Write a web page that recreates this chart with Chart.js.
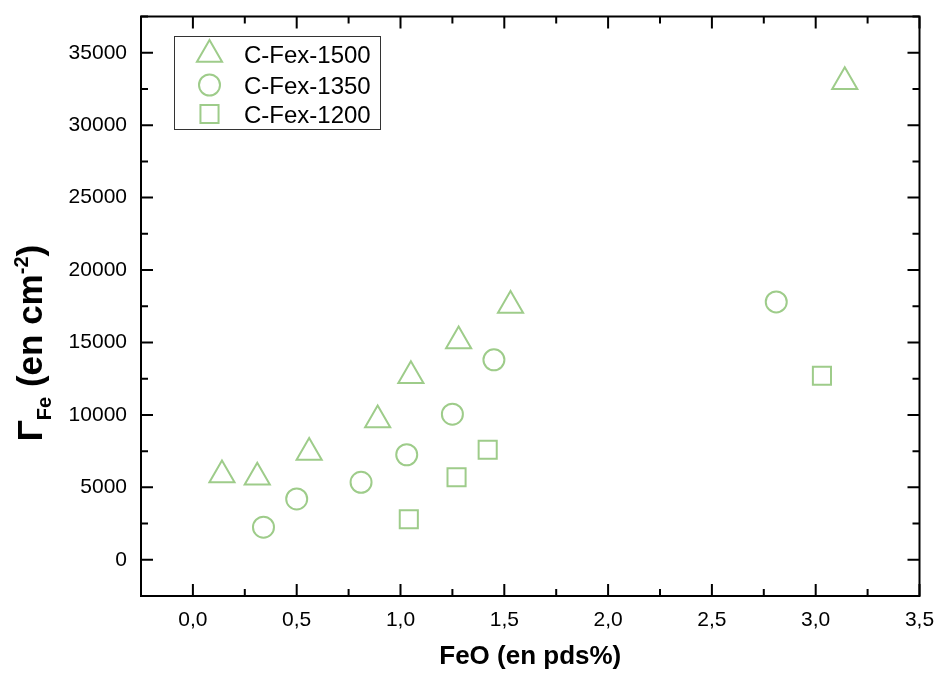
<!DOCTYPE html>
<html><head><meta charset="utf-8">
<script src="https://cdn.jsdelivr.net/npm/chart.js@4/dist/chart.umd.min.js"></script>
<style>html,body{margin:0;padding:0;background:#fff;} #wrap{width:936px;height:673px;}</style>
</head><body><div id="wrap"><canvas id="c" width="936" height="673"></canvas></div>
<script>
const seriesNames = ['C-Fex-1500', 'C-Fex-1350', 'C-Fex-1200'];
const feo1500 = [0.14, 0.31, 0.56, 0.89, 1.05, 1.28, 1.53, 3.14];
const gamma1500 = [5850, 5700, 7400, 9650, 12700, 15100, 17550, 33000];
const feo1350 = [0.34, 0.50, 0.81, 1.03, 1.25, 1.45, 2.81];
const gamma1350 = [2250, 4200, 5350, 7250, 10050, 13800, 17800];
const feo1200 = [1.04, 1.27, 1.42, 3.03];
const gamma1200 = [2800, 5700, 7600, 12700];
const xTicks = [0, 0.5, 1, 1.5, 2, 2.5, 3, 3.5];
const xMinorTicks = [-0.25, 0.25, 0.75, 1.25, 1.75, 2.25, 2.75, 3.25];
const yTicks = [0, 5000, 10000, 15000, 20000, 25000, 30000, 35000];
const yMinorTicks = [-2500, 2500, 7500, 12500, 17500, 22500, 27500, 32500, 37500];
const xTitle = 'FeO (en pds%)';

const GREEN = 'rgb(158,204,138)';
const FONT = "'Liberation Sans', Arial, sans-serif";

function pts(xs, ys) { return xs.map((x, i) => ({ x: x, y: ys[i] })); }

const styles = [
  { pointStyle: 'triangle', radius: 14.5 },
  { pointStyle: 'circle', radius: 10.5 },
  { pointStyle: 'rect', radius: 12.8 }
];

function drawSymbol(ctx, style, r, x, y) {
  ctx.beginPath();
  if (style === 'triangle') {
    let rad = 0;
    ctx.moveTo(x + Math.sin(rad) * r, y - Math.cos(rad) * r);
    rad += 2 * Math.PI / 3;
    ctx.lineTo(x + Math.sin(rad) * r, y - Math.cos(rad) * r);
    rad += 2 * Math.PI / 3;
    ctx.lineTo(x + Math.sin(rad) * r, y - Math.cos(rad) * r);
    ctx.closePath();
  } else if (style === 'circle') {
    ctx.arc(x, y, r, 0, Math.PI * 2);
  } else {
    const s = Math.SQRT1_2 * r;
    ctx.rect(x - s, y - s, 2 * s, 2 * s);
  }
  ctx.stroke();
}

const framePlugin = {
  id: 'frame',
  afterDraw(chart) {
    const ctx = chart.ctx;
    const a = chart.chartArea;
    const xs = chart.scales.x, ys = chart.scales.y;
    ctx.save();
    ctx.strokeStyle = '#000';
    ctx.lineWidth = 2;
    ctx.strokeRect(a.left, a.top, a.right - a.left, a.bottom - a.top);
    ctx.beginPath();
    const tick = (list, len) => {
      list.forEach(v => {
        const px = xs.getPixelForValue(v);
        if (px < a.left - 0.5 || px > a.right + 0.5) return;
        ctx.moveTo(px, a.bottom); ctx.lineTo(px, a.bottom - len);
        ctx.moveTo(px, a.top); ctx.lineTo(px, a.top + len);
      });
    };
    const tickY = (list, len) => {
      list.forEach(v => {
        const py = ys.getPixelForValue(v);
        if (py < a.top - 0.5 || py > a.bottom + 0.5) return;
        ctx.moveTo(a.left, py); ctx.lineTo(a.left + len, py);
        ctx.moveTo(a.right, py); ctx.lineTo(a.right - len, py);
      });
    };
    tick(xTicks, 12); tick(xMinorTicks, 7);
    tickY(yTicks, 12); tickY(yMinorTicks, 7);
    ctx.stroke();

    // x title
    ctx.fillStyle = '#000';
    ctx.font = 'bold 26px ' + FONT;
    ctx.textAlign = 'center';
    ctx.textBaseline = 'alphabetic';
    ctx.fillText(xTitle, (a.left + a.right) / 2, 664);

    // y title with sub/superscript
    const parts = [
      { t: 'Γ', size: 35, dy: 0 },
      { t: 'Fe', size: 20, dy: 9 },
      { t: ' (en cm', size: 35, dy: 0 },
      { t: '-2', size: 20, dy: -14 },
      { t: ')', size: 35, dy: 0 }
    ];
    let total = 0;
    parts.forEach(p => { ctx.font = 'bold ' + p.size + 'px ' + FONT; p.w = ctx.measureText(p.t).width; total += p.w; });
    ctx.translate(42, 343);
    ctx.rotate(-Math.PI / 2);
    ctx.textAlign = 'left';
    let cx = -total / 2;
    parts.forEach(p => {
      ctx.font = 'bold ' + p.size + 'px ' + FONT;
      ctx.fillText(p.t, cx, p.dy);
      cx += p.w;
    });
    ctx.restore();

    // legend
    ctx.save();
    ctx.strokeStyle = '#333';
    ctx.lineWidth = 1;
    ctx.strokeRect(174.5, 36.5, 206, 93);
    const rows = [54.5, 85, 114];
    ctx.font = '24px ' + FONT;
    ctx.textAlign = 'left';
    ctx.textBaseline = 'alphabetic';
    chart.data.datasets.forEach((ds, i) => {
      ctx.strokeStyle = GREEN;
      ctx.lineWidth = 2;
      drawSymbol(ctx, styles[i].pointStyle, styles[i].radius, 209.5, rows[i]);
      ctx.fillStyle = '#000';
      ctx.fillText(ds.label, 244, rows[i] + 8.5);
    });
    ctx.restore();
  }
};

const datasets = [
  { label: seriesNames[0], data: pts(feo1500, gamma1500) },
  { label: seriesNames[1], data: pts(feo1350, gamma1350) },
  { label: seriesNames[2], data: pts(feo1200, gamma1200) }
].map((d, i) => Object.assign(d, {
  pointStyle: styles[i].pointStyle,
  pointRadius: styles[i].radius,
  pointHoverRadius: styles[i].radius,
  pointBorderWidth: 2,
  pointBorderColor: GREEN,
  pointBackgroundColor: 'rgba(0,0,0,0)',
  borderColor: GREEN,
  backgroundColor: 'rgba(0,0,0,0)',
  showLine: false
}));

function noPad(s) { s.paddingLeft = 0; s.paddingRight = 0; s.paddingTop = 0; s.paddingBottom = 0; }

new Chart(document.getElementById('c'), {
  type: 'scatter',
  data: { datasets: datasets },
  options: {
    responsive: false,
    animation: false,
    layout: { padding: { top: 15, right: 16, left: 0, bottom: 0 } },
    plugins: { legend: { display: false }, tooltip: { enabled: false } },
    scales: {
      x: {
        type: 'linear', min: -0.25, max: 3.5,
        afterBuildTicks: s => { s.ticks = xTicks.map(v => ({ value: v })); },
        afterFit: s => { s.height = 77; noPad(s); },
        grid: { display: false, drawTicks: false },
        border: { display: false },
        ticks: {
          padding: 12, color: '#000', maxRotation: 0, autoSkip: false,
          font: { family: FONT, size: 21 },
          callback: v => Number(v).toFixed(1).replace('.', ',')
        }
      },
      y: {
        type: 'linear', min: -2500, max: 37500,
        afterBuildTicks: s => { s.ticks = yTicks.map(v => ({ value: v })); },
        afterFit: s => { s.width = 141; noPad(s); },
        grid: { display: false, drawTicks: false },
        border: { display: false },
        ticks: {
          padding: 14, color: '#000', autoSkip: false,
          font: { family: FONT, size: 21 },
          callback: v => String(v)
        }
      }
    }
  },
  plugins: [framePlugin]
});
</script></body></html>
